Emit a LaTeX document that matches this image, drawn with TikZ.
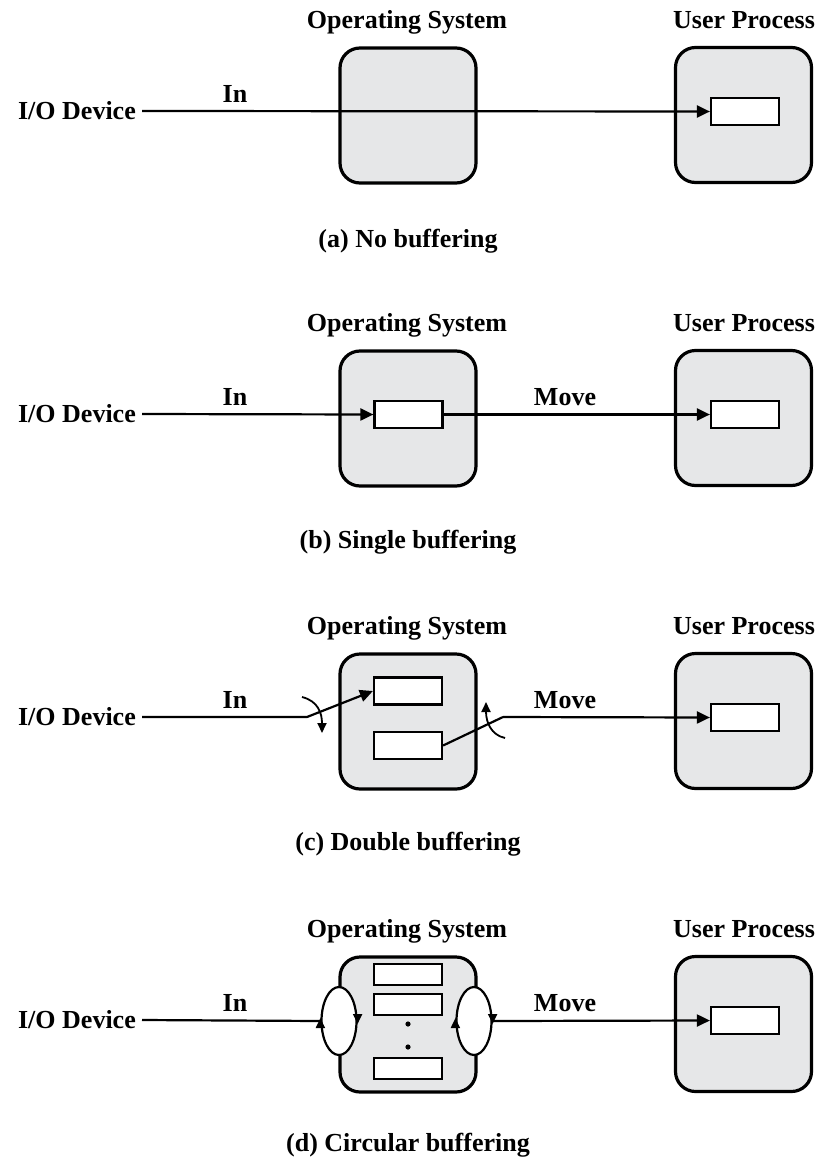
\documentclass[tikz,border=0pt]{standalone}
\usepackage{fontspec}
\setmainfont{Liberation Serif}
\usetikzlibrary{arrows.meta,shapes.geometric}
\definecolor{boxgray}{HTML}{E6E7E8}
\tikzset{
  lbl/.style={font=\fontsize{26}{30}\selectfont\bfseries, inner sep=0pt},
  bigbox/.style={draw, line width=3.2pt, fill=boxgray, rounded corners=20pt,
    minimum width=136pt, minimum height=135pt, inner sep=0pt},
  buf/.style={draw, line width=2.2pt, fill=white, minimum width=68pt,
    minimum height=27pt, inner sep=0pt},
  sbuf/.style={buf, minimum height=21pt},
  conn/.style={line width=2.2pt},
  arr/.style={conn, -{Triangle[length=13pt,width=12pt]}},
  sarr/.style={line width=1.8pt, -{Triangle[length=10pt,width=9pt]}},
  ring/.style={draw, line width=2.2pt, fill=white, ellipse, minimum width=35pt,
    minimum height=68pt, inner sep=0pt},
}
\begin{document}
\begin{tikzpicture}[x=1pt,y=-1pt]
\useasboundingbox (0,0) rectangle (817,1159);

% ---------- common per panel ----------
\foreach \p/\dy/\cy/\cap in {a/0/247/{(a) No buffering}, b/303/548/{(b) Single buffering}, c/606/850/{(c) Double buffering}, d/909/1151/{(d) Circular buffering}}{
  \node[lbl, anchor=base] (os\p) at (407,28+\dy) {Operating System};
  \node[lbl, anchor=base] (up\p) at (744,28+\dy) {User Process};
  \node[lbl, anchor=base] (cap\p) at (408,\cy) {\cap};
  \node[lbl, anchor=east] (io\p) at (136,111+\dy) {I/O Device};
  \node[bigbox] (osb\p) at (408,115.5+\dy) {};
  \node[bigbox] (ub\p) at (743.5,115+\dy) {};
  \node[buf] (ubuf\p) at (745,111.5+\dy) {};
  \node[lbl, anchor=base] (in\p) at (235,102+\dy) {In};
}

% ---------- (a) ----------
\draw[arr] (ioa.east) ++(6,0) coordinate (sa) -- (ubufa.west);

% ---------- (b) ----------
\node[buf] (osbufb) at (408.5,414.5) {};
\node[lbl, anchor=base] (moveb) at (565,405) {Move};
\draw[arr] (iob.east) ++(6,0) -- (osbufb.west);
\draw[arr] (osbufb.east) -- (ubufb.west);

% ---------- (c) ----------
\node[buf] (cbufu) at (408,691) {};
\node[buf] (cbufl) at (408,745.5) {};
\node[lbl, anchor=base] (movec) at (565,708) {Move};
\coordinate (cl) at (307,717);
\coordinate (cr) at (503,717);
\draw[arr] (ioc.east) ++(6,0) -- (cl) -- (cbufu.west);
\draw[conn] (cbufl.east) -- (cr);
\draw[arr] (cr) -- (ubufc.west);
\coordinate (sl1) at (302,697);
\coordinate (sl2) at (322,733);
\draw[sarr] (sl1) .. controls (318,701) and (322,713) .. (sl2);
\coordinate (sr1) at (505,738);
\coordinate (sr2) at (486,702);
\draw[sarr] (sr1) .. controls (491,735) and (486,722) .. (sr2);

% ---------- (d) ----------
\node[sbuf] (dbuf1) at (408,974.5) {};
\node[sbuf] (dbuf2) at (408,1004.5) {};
\node[sbuf] (dbuf3) at (408,1068.5) {};
\fill (408,1024) circle (2.6pt);
\fill (408,1047) circle (2.6pt);
\node[ring] (rl) at (339,1021) {};
\node[ring] (rr) at (474,1021) {};
\node[lbl, anchor=base] (moved) at (565,1011) {Move};
\draw[conn] (iod.east) ++(6,0) -- (rl.west);
\draw[arr] (rr.east) -- (ubufd.west);
\foreach \r in {rl,rr}{
  \draw[sarr] ([yshift=-4pt]\r.west) -- ([yshift=3pt]\r.west);
  \draw[sarr] ([yshift=4pt]\r.east) -- ([yshift=-3pt]\r.east);
}
\end{tikzpicture}
\end{document}
